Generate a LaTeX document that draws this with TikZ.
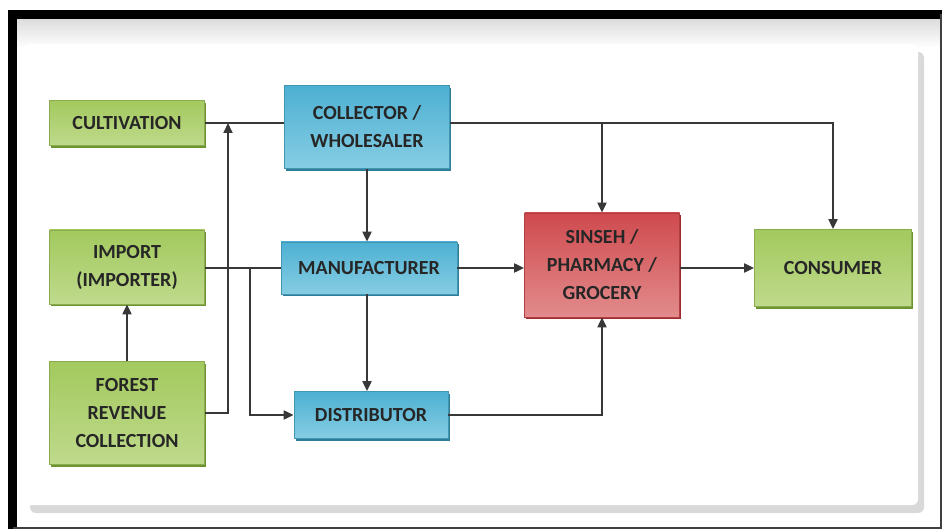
\documentclass[tikz,border=0pt]{standalone}
\usepackage{fontspec}
\setmainfont{Carlito}
\usetikzlibrary{arrows.meta, shadows}

\definecolor{grnTop}{HTML}{A3C95E}
\definecolor{grnBot}{HTML}{BFDA8C}
\definecolor{grnEdge}{HTML}{6E9430}
\definecolor{bluTop}{HTML}{4DB0D2}
\definecolor{bluBot}{HTML}{86CDE3}
\definecolor{bluEdge}{HTML}{2E7E9A}
\definecolor{redTop}{HTML}{CF4A4E}
\definecolor{redBot}{HTML}{E28B8C}
\definecolor{redEdge}{HTML}{9E2A2E}
\definecolor{linkgray}{HTML}{383838}

\tikzset{
  box/.style={rectangle, align=center, inner sep=2pt,
    font=\fontsize{10}{14}\selectfont\bfseries, text=black!85},
  greenbox/.style={box, top color=grnTop, bottom color=grnBot, draw=grnTop!85!black, line width=0.4pt,
    drop shadow={shadow xshift=0.8pt, shadow yshift=-1.2pt, fill=grnEdge, opacity=1}},
  bluebox/.style={box, top color=bluTop, bottom color=bluBot, draw=bluTop!85!black, line width=0.4pt,
    drop shadow={shadow xshift=0.8pt, shadow yshift=-1.2pt, fill=bluEdge, opacity=1}},
  redbox/.style={box, top color=redTop, bottom color=redBot, draw=redTop!85!black, line width=0.4pt,
    drop shadow={shadow xshift=0.8pt, shadow yshift=-1.2pt, fill=redEdge, opacity=1}},
  link/.style={draw=linkgray, line width=1pt},
  flow/.style={link, -{Triangle[length=5pt,width=4.5pt]}}
}

\begin{document}
\begin{tikzpicture}[x=0.5pt, y=-0.5pt]
  \useasboundingbox (0,0) rectangle (942,529);
  % frame and panel
  \fill[white] (0,0) rectangle (942,529);
  \shade[top color=gray!30, bottom color=white] (13,16) rectangle (940,48);
  \fill[white, rounded corners=3pt,
    drop shadow={shadow xshift=3pt, shadow yshift=-4pt, fill=gray!30, opacity=1}]
    (24,44) rectangle (918,505);
  \draw[line width=4.5pt] (12.5,529) -- (12.5,14.5) -- (942,14.5);
  \draw[line width=1pt, black!75] (940.5,14.5) -- (940.5,527.5) -- (12.5,527.5);

  % sources
  \node[greenbox, minimum width=77.5pt, minimum height=22.5pt] (cult) at (127,123) {CULTIVATION};
  \node[greenbox, minimum width=77.5pt, minimum height=37pt] (imp) at (127,267) {IMPORT\\(IMPORTER)};
  \node[greenbox, minimum width=77.5pt, minimum height=51.5pt] (forest) at (127,413) {FOREST\\REVENUE\\COLLECTION};

  % middle chain
  \node[bluebox, minimum width=82.5pt, minimum height=41.5pt] (coll) at (367,127) {COLLECTOR /\\WHOLESALER};
  \node[bluebox, minimum width=88pt, minimum height=26pt] (manu) at (369,268) {MANUFACTURER};
  \node[bluebox, minimum width=77pt, minimum height=23.5pt] (dist) at (371,415) {DISTRIBUTOR};

  % retail and end user
  \node[redbox, minimum width=77.5pt, minimum height=52pt] (sinseh) at (602,265) {SINSEH /\\PHARMACY /\\GROCERY};
  \node[greenbox, minimum width=78.5pt, minimum height=38.5pt] (cons) at (833,268) {CONSUMER};

  % junctions
  \coordinate (cj) at (228,123);
  \coordinate (ij) at (250,268);

  % connectors
  \draw[link] (cult.east) -- (cult.east -| coll.west);
  \draw[flow] (forest.east) -| (cj);
  \draw[flow] (forest.north) -- (imp.south);
  \draw[link] (imp.east |- manu.west) -- (manu.west);
  \draw[flow] (ij) |- (dist.west);
  \draw[flow] (coll.south) -- (coll.south |- manu.north);
  \draw[flow] (manu.south -| coll.south) -- (dist.north -| coll.south);
  \draw[flow] (cult.east -| coll.east) -| (cons.north);
  \draw[flow] (cult.east -| sinseh.north) -- (sinseh.north);
  \draw[flow] (manu.east) -- (manu.east -| sinseh.west);
  \draw[flow] (dist.east) -| (sinseh.south);
  \draw[flow] (sinseh.east |- cons.west) -- (cons.west);
\end{tikzpicture}
\end{document}
